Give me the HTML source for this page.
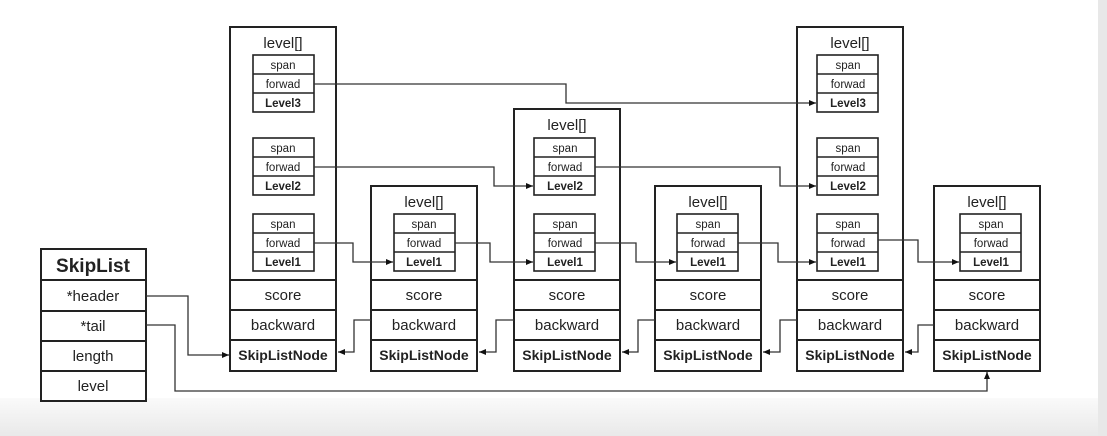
<!DOCTYPE html>
<html><head><meta charset="utf-8"><style>
html,body{margin:0;padding:0;background:#fff;}
svg{display:block;}
text{font-family:"Liberation Sans","DejaVu Sans",sans-serif;fill:#222;text-anchor:middle;}
.t{font-size:15px}.s{font-size:11.5px}.b{font-weight:bold}
</style></head><body>
<svg width="1107" height="436" viewBox="0 0 1107 436" xmlns="http://www.w3.org/2000/svg">
<defs><marker id="a" markerWidth="8" markerHeight="8" refX="7" refY="4" orient="auto" markerUnits="userSpaceOnUse"><path d="M0,1 L7,4 L0,7z" fill="#111"/></marker>
<linearGradient id="g" x1="0" y1="0" x2="0" y2="1"><stop offset="0" stop-color="#fafafa"/><stop offset="1" stop-color="#e9e9e9"/></linearGradient></defs>
<rect x="0" y="398" width="1107" height="38" fill="url(#g)"/>
<rect x="1098" y="0" width="9" height="436" fill="#e8e8e8"/>
<g fill="none" stroke="#222" stroke-width="2">
<rect x="41" y="249" width="105" height="152" fill="#fff"/>
<path d="M41 280H146M41 311H146M41 341H146M41 371H146"/>
<rect x="230" y="27" width="106" height="344" fill="#fff"/><path d="M230 280H336M230 310H336M230 340H336"/>
<rect x="371" y="186" width="106" height="185" fill="#fff"/><path d="M371 280H477M371 310H477M371 340H477"/>
<rect x="514" y="109" width="106" height="262" fill="#fff"/><path d="M514 280H620M514 310H620M514 340H620"/>
<rect x="655" y="186" width="106" height="185" fill="#fff"/><path d="M655 280H761M655 310H761M655 340H761"/>
<rect x="797" y="27" width="106" height="344" fill="#fff"/><path d="M797 280H903M797 310H903M797 340H903"/>
<rect x="934" y="186" width="106" height="185" fill="#fff"/><path d="M934 280H1040M934 310H1040M934 340H1040"/>
<g stroke-width="1.6">
<rect x="253" y="55" width="61" height="57"/><path d="M253 74H314M253 93H314"/>
<rect x="253" y="138" width="61" height="57"/><path d="M253 157H314M253 176H314"/>
<rect x="253" y="214" width="61" height="57"/><path d="M253 233H314M253 252H314"/>
<rect x="394" y="214" width="61" height="57"/><path d="M394 233H455M394 252H455"/>
<rect x="534" y="138" width="61" height="57"/><path d="M534 157H595M534 176H595"/>
<rect x="534" y="214" width="61" height="57"/><path d="M534 233H595M534 252H595"/>
<rect x="677" y="214" width="61" height="57"/><path d="M677 233H738M677 252H738"/>
<rect x="817" y="55" width="61" height="57"/><path d="M817 74H878M817 93H878"/>
<rect x="817" y="138" width="61" height="57"/><path d="M817 157H878M817 176H878"/>
<rect x="817" y="214" width="61" height="57"/><path d="M817 233H878M817 252H878"/>
<rect x="960" y="214" width="61" height="57"/><path d="M960 233H1021M960 252H1021"/>
</g>
</g>
<g fill="none" stroke="#333" stroke-width="1.3" marker-end="url(#a)">
<path d="M146 296H188V355H229"/>
<path d="M146 325H175V391H987V372"/>
<path d="M314 84H566V103H816"/>
<path d="M314 167H494V186H533"/>
<path d="M595 167H780V186H816"/>
<path d="M314 243H353V262H393"/>
<path d="M455 243H490V262H533"/>
<path d="M595 243H636V262H676"/>
<path d="M738 243H778V262H816"/>
<path d="M878 240H918V262H959"/>
<path d="M371 320H354V352H338"/>
<path d="M514 320H496V352H479"/>
<path d="M655 320H638V352H622"/>
<path d="M797 320H780V352H763"/>
<path d="M934 325H918V352H905"/>
</g>
<text x="93" y="272" font-size="19" class="b">SkipList</text>
<text x="93" y="301" class="t">*header</text>
<text x="93" y="331" class="t">*tail</text>
<text x="93" y="361" class="t">length</text>
<text x="93" y="391" class="t">level</text>

<text x="283" y="48" class="t" font-size="16">level[]</text>
<text x="424" y="207" class="t" font-size="16">level[]</text>
<text x="567" y="130" class="t" font-size="16">level[]</text>
<text x="708" y="207" class="t" font-size="16">level[]</text>
<text x="850" y="48" class="t" font-size="16">level[]</text>
<text x="987" y="207" class="t" font-size="16">level[]</text>

<g class="t">
<text x="283" y="300">score</text><text x="283" y="330">backward</text><text x="283" y="360" class="b" font-size="14">SkipListNode</text>
<text x="424" y="300">score</text><text x="424" y="330">backward</text><text x="424" y="360" class="b" font-size="14">SkipListNode</text>
<text x="567" y="300">score</text><text x="567" y="330">backward</text><text x="567" y="360" class="b" font-size="14">SkipListNode</text>
<text x="708" y="300">score</text><text x="708" y="330">backward</text><text x="708" y="360" class="b" font-size="14">SkipListNode</text>
<text x="850" y="300">score</text><text x="850" y="330">backward</text><text x="850" y="360" class="b" font-size="14">SkipListNode</text>
<text x="987" y="300">score</text><text x="987" y="330">backward</text><text x="987" y="360" class="b" font-size="14">SkipListNode</text>
</g>
<g class="s">
<text x="283" y="69">span</text><text x="283" y="88">forwad</text><text x="283" y="107" class="b">Level3</text>
<text x="283" y="152">span</text><text x="283" y="171">forwad</text><text x="283" y="190" class="b">Level2</text>
<text x="283" y="228">span</text><text x="283" y="247">forwad</text><text x="283" y="266" class="b">Level1</text>
<text x="424" y="228">span</text><text x="424" y="247">forwad</text><text x="424" y="266" class="b">Level1</text>
<text x="565" y="152">span</text><text x="565" y="171">forwad</text><text x="565" y="190" class="b">Level2</text>
<text x="565" y="228">span</text><text x="565" y="247">forwad</text><text x="565" y="266" class="b">Level1</text>
<text x="708" y="228">span</text><text x="708" y="247">forwad</text><text x="708" y="266" class="b">Level1</text>
<text x="848" y="69">span</text><text x="848" y="88">forwad</text><text x="848" y="107" class="b">Level3</text>
<text x="848" y="152">span</text><text x="848" y="171">forwad</text><text x="848" y="190" class="b">Level2</text>
<text x="848" y="228">span</text><text x="848" y="247">forwad</text><text x="848" y="266" class="b">Level1</text>
<text x="991" y="228">span</text><text x="991" y="247">forwad</text><text x="991" y="266" class="b">Level1</text>
</g>
</svg>
</body></html>
